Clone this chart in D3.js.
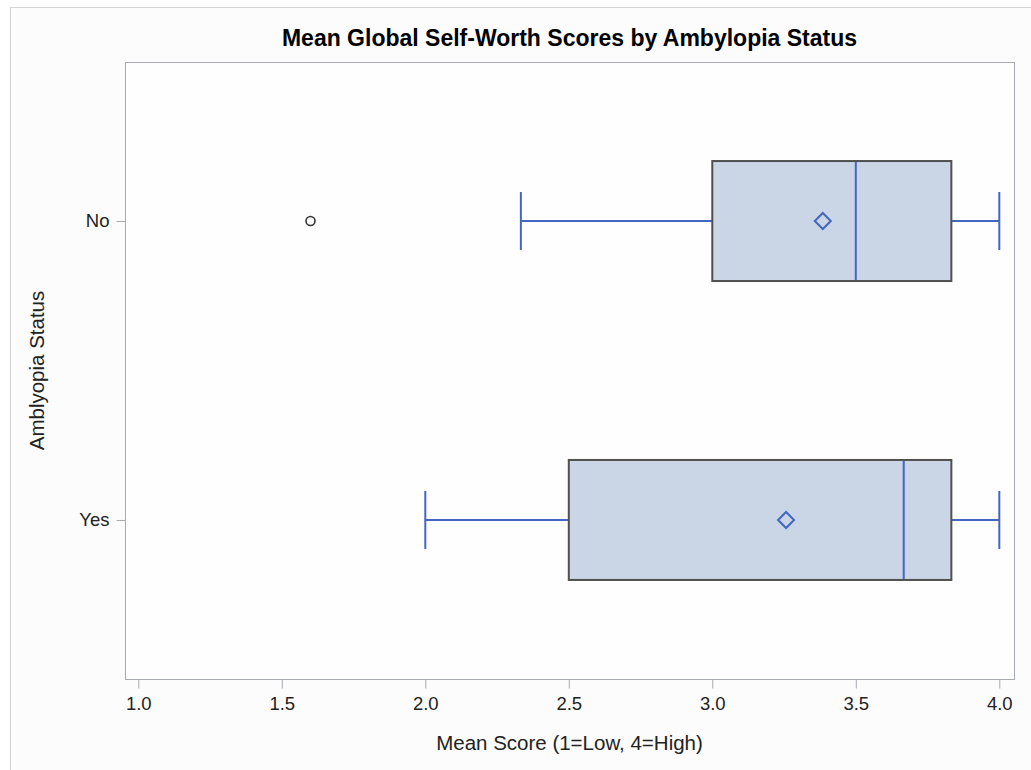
<!DOCTYPE html>
<html><head><meta charset="utf-8">
<script src="https://cdn.jsdelivr.net/npm/d3@7"></script>
<style>body{margin:0;background:#fff}svg{display:block}text{font-family:"Liberation Sans",Arial,sans-serif}</style>
</head><body>
<svg id="c" width="1031" height="770"></svg>
<script>
const categories = ["No", "Yes"];
const q1 = [3.0, 2.5];
const median = [3.5, 3.667];
const q3 = [3.833, 3.833];
const mean = [3.385, 3.257];
const whiskerLow = [2.333, 2.0];
const whiskerHigh = [4.0, 4.0];
const outliers = [{cat: "No", value: 1.6}];
const xTicks = [1.0, 1.5, 2.0, 2.5, 3.0, 3.5, 4.0];

const svg = d3.select("#c");
const W = 1031, H = 770;
const L = 125, R = 1014, T = 62, B = 679;

svg.append("rect").attr("x", 0).attr("y", 0).attr("width", W).attr("height", H).attr("fill", "#fff");
svg.append("rect").attr("x", 10.5).attr("y", 7.5).attr("width", W).attr("height", H).attr("fill", "#fcfcfc").attr("stroke", "#d4d4d4").attr("stroke-width", 1);

const x = d3.scaleLinear().domain([1, 4]).range([138.3, 999.3]);
const y = d3.scalePoint().domain(categories).range([T, B]).padding(0.532);

// frame
svg.append("rect").attr("x", L + 0.5).attr("y", T + 0.5).attr("width", R - L).attr("height", B - T)
  .attr("fill", "#fefefe").attr("stroke", "#a7abaf").attr("stroke-width", 1);

// x axis
const xa = svg.append("g").attr("transform", `translate(0,${B + 0.5})`)
  .call(d3.axisBottom(x).tickValues(xTicks).tickFormat(d3.format(".1f")).tickSize(9).tickPadding(8));
xa.select(".domain").remove();
xa.selectAll("line").attr("stroke", "#a7abaf");
xa.selectAll("text").attr("font-size", "18.5px").attr("fill", "#222");

// y axis
const ya = svg.append("g").attr("transform", `translate(${L + 0.5},0)`)
  .call(d3.axisLeft(y).tickSize(9).tickPadding(7));
ya.select(".domain").remove();
ya.selectAll("line").attr("stroke", "#a7abaf");
ya.selectAll("text").attr("font-size", "18.5px").attr("fill", "#222");

const boxH = 120, capH = 58;
const blue = "#4266c2";
const data = categories.map((c, i) => ({c, q1: q1[i], med: median[i], q3: q3[i], mean: mean[i], lo: whiskerLow[i], hi: whiskerHigh[i]}));

const g = svg.selectAll("g.box").data(data).enter().append("g").attr("class", "box");
// whiskers
g.append("line").attr("x1", d => x(d.lo)).attr("x2", d => x(d.q1)).attr("y1", d => y(d.c)).attr("y2", d => y(d.c)).attr("stroke", blue).attr("stroke-width", 2);
g.append("line").attr("x1", d => x(d.q3)).attr("x2", d => x(d.hi)).attr("y1", d => y(d.c)).attr("y2", d => y(d.c)).attr("stroke", blue).attr("stroke-width", 2);
g.append("line").attr("x1", d => x(d.lo)).attr("x2", d => x(d.lo)).attr("y1", d => y(d.c) - capH / 2).attr("y2", d => y(d.c) + capH / 2).attr("stroke", blue).attr("stroke-width", 2);
g.append("line").attr("x1", d => x(d.hi)).attr("x2", d => x(d.hi)).attr("y1", d => y(d.c) - capH / 2).attr("y2", d => y(d.c) + capH / 2).attr("stroke", blue).attr("stroke-width", 2);
// box
g.append("rect").attr("x", d => x(d.q1)).attr("width", d => x(d.q3) - x(d.q1)).attr("y", d => y(d.c) - boxH / 2).attr("height", boxH)
  .attr("fill", "#cad5e5").attr("stroke", "#505050").attr("stroke-width", 2);
// median
g.append("line").attr("x1", d => x(d.med)).attr("x2", d => x(d.med)).attr("y1", d => y(d.c) - boxH / 2 + 1).attr("y2", d => y(d.c) + boxH / 2 - 1).attr("stroke", blue).attr("stroke-width", 2);
// mean diamond
g.append("path").attr("d", d => { const cx = x(d.mean), cy = y(d.c), r = 8; return `M${cx},${cy - r}L${cx + r},${cy}L${cx},${cy + r}L${cx - r},${cy}Z`; })
  .attr("fill", "none").attr("stroke", blue).attr("stroke-width", 2);

// outliers
svg.selectAll("circle.out").data(outliers).enter().append("circle").attr("class", "out")
  .attr("cx", d => x(d.value)).attr("cy", d => y(d.cat)).attr("r", 4.5)
  .attr("fill", "none").attr("stroke", "#333").attr("stroke-width", 1.6);

// titles
svg.append("text").attr("x", (L + R) / 2).attr("y", 46).attr("text-anchor", "middle")
  .attr("font-size", "23px").attr("font-weight", "bold").attr("fill", "#000")
  .text("Mean Global Self-Worth Scores by Ambylopia Status");
svg.append("text").attr("x", (L + R) / 2).attr("y", 750).attr("text-anchor", "middle")
  .attr("font-size", "20.5px").attr("fill", "#222").text("Mean Score (1=Low, 4=High)");
svg.append("text").attr("transform", `translate(44,${(T + B) / 2}) rotate(-90)`).attr("text-anchor", "middle")
  .attr("font-size", "20.5px").attr("fill", "#222").text("Amblyopia Status");
</script>
</body></html>
